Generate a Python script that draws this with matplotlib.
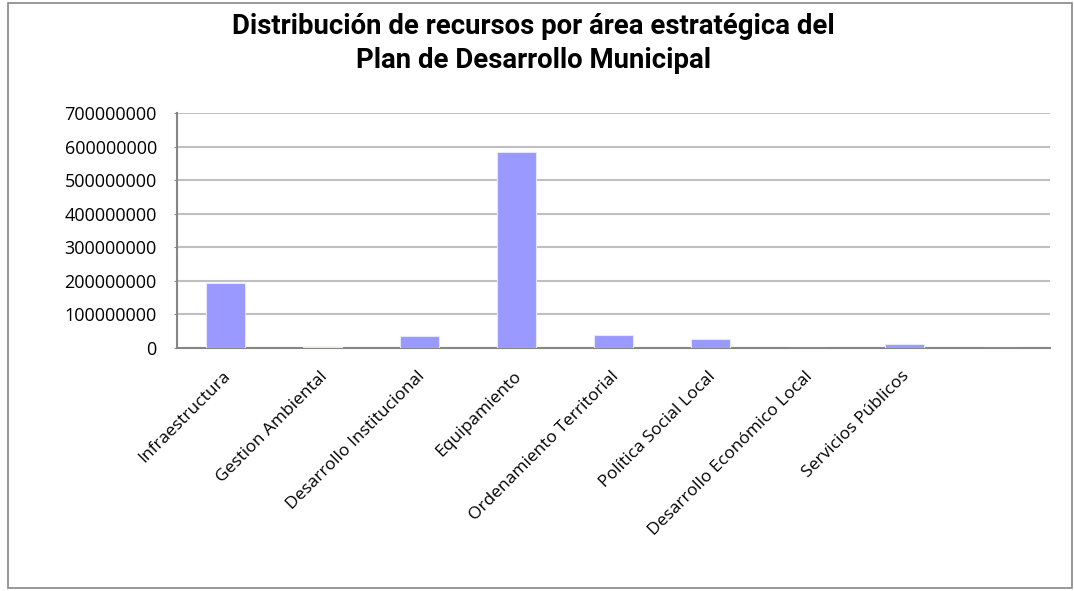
import numpy as np
import matplotlib.pyplot as plt
import matplotlib.transforms as mtransforms
from matplotlib.patches import Rectangle

# ================== DATOS ==================
areas = ['Infraestructura', 'Gestion Ambiental', 'Desarrollo Institucional',
         'Equipamiento', 'Ordenamiento Territorial', 'Política Social Local',
         'Desarrollo Económico Local', 'Servicios Públicos', '']
recursos = [195000000, 4000000, 34500000, 583000000, 39500000,
            27000000, 0, 13000000, 0]
y_ticks = np.arange(0, 700000001, 100000000)

titulo = 'Distribución de recursos por área estratégica del\nPlan de Desarrollo Municipal'

# ================== GRAFICO ==================
plt.rcParams['font.family'] = ['Open Sans', 'DejaVu Sans']

fig = plt.figure(figsize=(10.74, 5.91), dpi=100)
ax = fig.add_axes([0.1648, 0.4112, 0.8128, 0.3976])

x = np.arange(len(areas))
ax.bar(x, recursos, width=0.4, color='#9999FF', edgecolor='#E6E6FF',
       linewidth=0.8, zorder=3)

ax.set_xlim(-0.5, len(areas) - 0.5)
ax.set_ylim(0, 700000000)
ax.set_yticks(y_ticks)
ax.set_yticklabels([str(v) for v in y_ticks], fontsize=13)
ax.yaxis.grid(True, color='#BFBFBF', linewidth=1.5, zorder=0)

ax.set_xticks(x)
ax.set_xticklabels(areas, rotation=45, ha='right', va='top',
                   rotation_mode='anchor', fontsize=12.5)
ax.tick_params(axis='x', length=0, pad=14.5)
ax.tick_params(axis='y', length=2, color='#868686', pad=12.5)

# pequeño desplazamiento horizontal de las etiquetas
shift = mtransforms.ScaledTranslation(-3 / 100, 0, fig.dpi_scale_trans)
for lbl in ax.get_xticklabels():
    lbl.set_transform(lbl.get_transform() + shift)

for s in ['top', 'right']:
    ax.spines[s].set_visible(False)
for s in ['left', 'bottom']:
    ax.spines[s].set_color('#868686')
    ax.spines[s].set_linewidth(1.5)

fig.text(0.497, 0.926, titulo, ha='center', va='center', fontsize=19.8,
         fontweight='bold', linespacing=1.35,
         family=['Roboto', 'DejaVu Sans'])

# marco exterior del grafico
fig.patches.append(Rectangle((0.0075, 0.005), 0.9905, 0.99, fill=False,
                             edgecolor='#868686', linewidth=1.2,
                             transform=fig.transFigure))

fig.savefig('out.png', dpi=100)
